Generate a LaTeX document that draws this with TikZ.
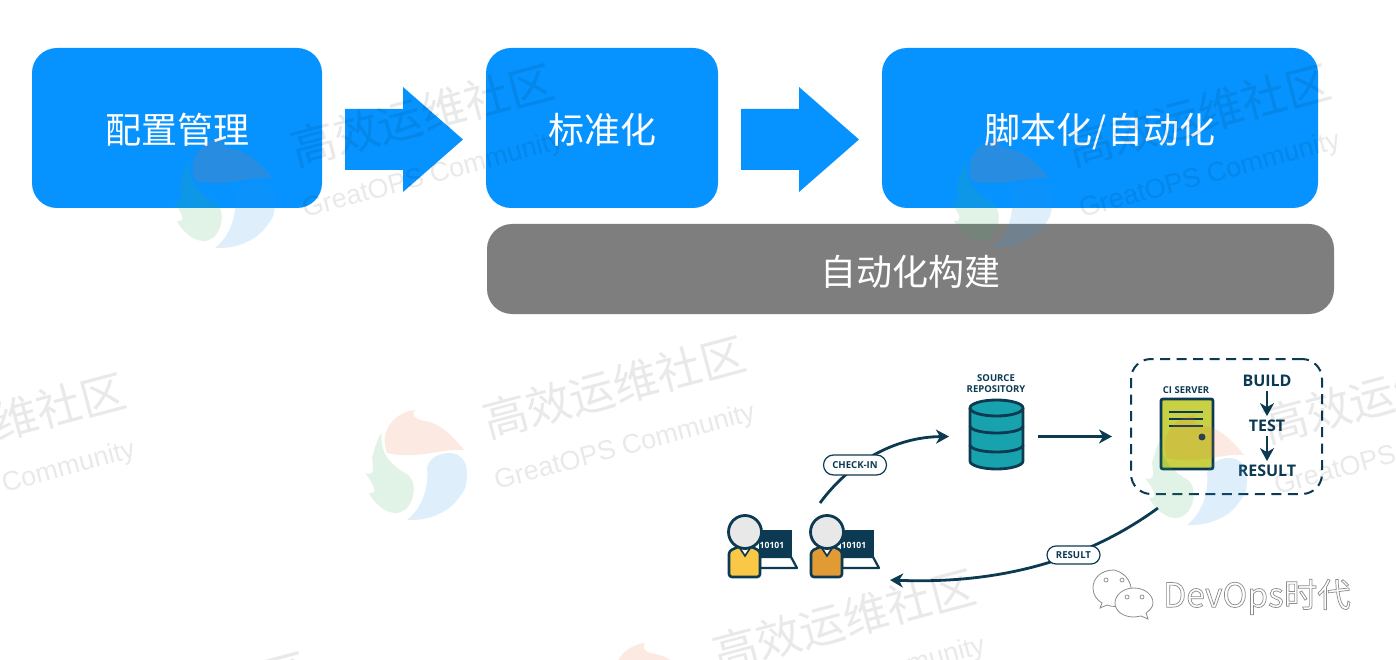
\documentclass[tikz,border=0pt]{standalone}
\usepackage{fontspec}
\usetikzlibrary{arrows.meta,shapes.misc,calc}
\newfontfamily\cjkface{Noto Sans CJK SC}
\newfontfamily\stepface{Open Sans}
\newfontfamily\wmface{Liberation Sans}
\definecolor{brandblue}{RGB}{6,147,255}
\definecolor{slategrey}{RGB}{126,126,126}
\definecolor{navy}{RGB}{12,58,82}
\definecolor{dbteal}{RGB}{23,162,173}
\definecolor{srvgreen}{RGB}{200,208,68}
\definecolor{devyellow}{RGB}{248,200,70}
\definecolor{devorange}{RGB}{224,155,53}
\definecolor{headgrey}{RGB}{232,232,232}
\definecolor{flamered}{RGB}{240,110,60}
\definecolor{flamegreen}{RGB}{60,170,100}
\definecolor{flameblue}{RGB}{40,150,230}
% sets a panel title with its baseline a given distance below the panel centre
\newcommand\paneltitle[2]{\raisebox{-#1}[0pt][0pt]{#2}}
\tikzset{
  panel/.style={fill=brandblue,rounded corners=25pt,minimum height=160pt,text=white,inner sep=0pt,font=\cjkface\fontsize{36}{40}\selectfont},
  basebar/.style={fill=slategrey,rounded corners=25pt,minimum width=847pt,minimum height=90pt,text=white,inner sep=0pt,font=\cjkface\fontsize{36}{40}\selectfont},
  caption/.style={text=navy,inner sep=0pt,align=center,font=\stepface\bfseries\fontsize{9.5}{12}\selectfont},
  stage/.style={text=navy,inner sep=1pt,outer sep=3pt,font=\stepface\bfseries\fontsize{16}{18}\selectfont},
  pill/.style={rounded rectangle,draw=navy,line width=1.2pt,fill=white,text=navy,inner sep=0pt,font=\stepface\bfseries\fontsize{9.6}{11}\selectfont},
  flow/.style={draw=navy,line width=2.8pt,-{Stealth[length=13pt,width=14pt,inset=4pt]}},
  pics/blockarrow/.style={code={
    \fill[brandblue] (0,-30.5) -- (58,-30.5) -- (58,-52.5) -- (118,0) -- (58,52.5) -- (58,30.5) -- (0,30.5) -- cycle;
  }},
  pics/devfigure/.style={code={
    \filldraw[draw=navy,line width=2pt,fill=navy] (15,-1) rectangle (46,25);
    \filldraw[draw=navy,line width=2.2pt,fill=white,line join=round] (15,25) -- (46,25) -- (52,36) -- (15,36) -- cycle;
    \node[name=\pgfkeysvalueof{/tikz/devlabel},text=white,inner sep=0pt,font=\stepface\bfseries\fontsize{8.6}{9}\selectfont] at (27,13) {10101};
    \filldraw[draw=navy,line width=2.6pt,fill=#1,rounded corners=3pt] (-16,19) -- (-5,14) -- (5,14) -- (15,19) -- (15,45) -- (-16,45) -- cycle;
    \fill[white] (-5,14) -- (0,22) -- (5,14) -- cycle;
    \draw[navy,line width=1.6pt] (-6,15) -- (0,24) -- (6,15);
    \filldraw[draw=navy,line width=2.8pt,fill=headgrey] (0,0) circle (16.5);
  }},
  devlabel/.initial=devtext,
  pics/watermark/.style={code={
    \node[name=-title,text=black,opacity=.085,inner sep=0pt,rotate=15,font=\cjkface\fontsize{45}{50}\selectfont] at (0,0) {高效运维社区};
    \node[name=-sub,text=black,opacity=.085,inner sep=0pt,rotate=15,font=\wmface\fontsize{27}{32}\selectfont] at (11,61) {GreatOPS Community};
    \begin{scope}[shift={(-197,76)}]
      \fill[flamered,opacity=.15] (-30,-10) .. controls (-38,-30) and (-25,-50) .. (-2,-53) .. controls (-6,-47) and (-2,-44) .. (8,-42) .. controls (22,-40) and (35,-28) .. (47,-13) .. controls (25,-15) and (0,-3) .. (-30,-10) -- cycle;
      \fill[flamegreen,opacity=.15] (-35,-30) .. controls (-38,-15) and (-30,0) .. (-12,10) .. controls (-2,15) and (-2,28) .. (-5,36) .. controls (-8,45) and (-14,50) .. (-22,50) .. controls (-30,50) and (-42,42) .. (-48,30) .. controls (-42,31) and (-38,28) .. (-52,10) .. controls (-45,13) and (-42,10) .. (-45,-5) .. controls (-42,-15) and (-40,-25) .. (-35,-30) -- cycle;
      \fill[flameblue,opacity=.15] (50,10) .. controls (50,-3) and (42,-10) .. (33,-10) .. controls (22,-10) and (12,-5) .. (10,5) .. controls (12,25) and (5,45) .. (-10,57) .. controls (10,58) and (33,50) .. (43,33) .. controls (50,25) and (50,18) .. (50,10) -- cycle;
    \end{scope}
  }},
}
\begin{document}
\begin{tikzpicture}[x=1pt,y=-1pt]
\useasboundingbox (0,0) rectangle (1396,660);
\clip (0,0) rectangle (1396,660);
\fill[white] (0,0) rectangle (1396,660);

% process row
\node[panel,minimum width=290pt] (config) at (177,128) {\paneltitle{15.7pt}{配置管理}};
\node[panel,minimum width=232pt] (standard) at (602,128) {\paneltitle{15.7pt}{标准化}};
\node[panel,minimum width=436pt] (script) at (1100,128) {\paneltitle{15.7pt}{脚本化/自动化}};
\node[basebar] (autobuild) at (910.5,269) {\paneltitle{16.7pt}{自动化构建}};
\pic at (345,139.5) {blockarrow};
\pic at (741,139.5) {blockarrow};

% source repository: a three-band cylinder
\node[caption] (repolabel) at (996,384) {SOURCE\\[-1pt]REPOSITORY};
\node[minimum width=53pt,minimum height=69pt,inner sep=0pt] (repo) at (996.5,434.5) {};
\filldraw[draw=navy,line width=2.8pt,fill=dbteal] (970,408) -- (970,461) arc[start angle=180,end angle=0,x radius=26.5,y radius=8] -- (1023,408);
\filldraw[draw=navy,line width=2.8pt,fill=dbteal] (996.5,408) ellipse[x radius=26.5,y radius=8];
\draw[navy,line width=2.8pt] (970,426) arc[start angle=180,end angle=0,x radius=26.5,y radius=7];
\draw[navy,line width=2.8pt] (970,445) arc[start angle=180,end angle=0,x radius=26.5,y radius=7];

% CI server
\node[draw=navy,line width=2pt,dash pattern=on 10pt off 6.5pt,rounded corners=20pt,minimum width=191pt,minimum height=135pt,inner sep=0pt] (ciserver) at (1226.5,426.5) {};
\node[caption] (serverlabel) at (1186,390) {CI SERVER};
\node[draw=navy,line width=2.8pt,fill=srvgreen,rounded corners=2pt,minimum width=52pt,minimum height=70pt,inner sep=0pt] (serverbody) at (1187,434) {};
\foreach \yy in {412,419,426} \draw[navy,line width=2.4pt] (1169,\yy) -- (1203,\yy);
\fill[navy] (1202,437) circle (3.5);
\node[stage] (build) at (1267,381) {BUILD};
\node[stage] (test) at (1267,426) {TEST};
\node[stage] (result) at (1267,471) {RESULT};
\draw[flow] (build) -- (test);
\draw[flow] (test) -- (result);
\draw[flow] ([shift={(15,2)}]repo.east) -- ([shift={(-18,10)}]ciserver.west);

% developers
\pic at (745,532) {devfigure=devyellow};
\tikzset{devlabel=devtextb}
\pic at (827,532) {devfigure=devorange};

% feedback loop
\coordinate (checkinstart) at (820,503);
\coordinate (checkinend) at (949,436.5);
\coordinate (resultstart) at (1158,508);
\coordinate (resultend) at (890,580);
\draw[flow] (checkinstart) .. controls (850,462) and (895,437) .. (checkinend);
\draw[flow] (resultstart) .. controls (1080,565) and (990,584) .. (resultend);
\node[pill,minimum width=63pt,minimum height=20pt] (checkin) at (855,465) {CHECK-IN};
\node[pill,minimum width=53pt,minimum height=18pt] (resultpill) at (1073.5,555) {RESULT};

% community marks laid over the page
\pic (wma) at (422,115) {watermark};
\pic (wmb) at (1199,115) {watermark};
\pic (wmc) at (614,387) {watermark};
\pic (wmd) at (-6,424) {watermark};
\pic (wme) at (1394,392) {watermark};
\pic (wmf) at (844,620) {watermark};
\pic (wmg) at (176,703) {watermark};

% account badge
\filldraw[draw=black!45,line width=.8pt,fill=white] (1114,570) .. controls (1101,570) and (1093,578) .. (1093,588) .. controls (1093,595) and (1097,600) .. (1102,603) -- (1100,608) -- (1107,605) .. controls (1112,607) and (1118,607) .. (1124,605) .. controls (1135,600) and (1135,575) .. (1114,570) -- cycle;
\filldraw[draw=black!45,line width=.8pt,fill=white] (1134,588) .. controls (1123,588) and (1115,595) .. (1115,603) .. controls (1115,611) and (1123,617) .. (1134,617) .. controls (1137,617) and (1139,616) .. (1141,616) -- (1148,619) -- (1146,613) .. controls (1150,610) and (1153,607) .. (1153,603) .. controls (1153,595) and (1145,588) .. (1134,588) -- cycle;
\foreach \ex/\ey in {1106/580,1122/580,1127/597,1142/597}
  \draw[black!45,line width=.7pt] (\ex,\ey) circle (2);
\node[inner sep=0pt,text=white,font=\cjkface\fontsize{33.5}{36}\selectfont] (badge) at (1257,597) {\special{pdf:code q 1 Tr 0.7 w 0.55 G}DevOps时代\special{pdf:code Q}};
\end{tikzpicture}
\end{document}
